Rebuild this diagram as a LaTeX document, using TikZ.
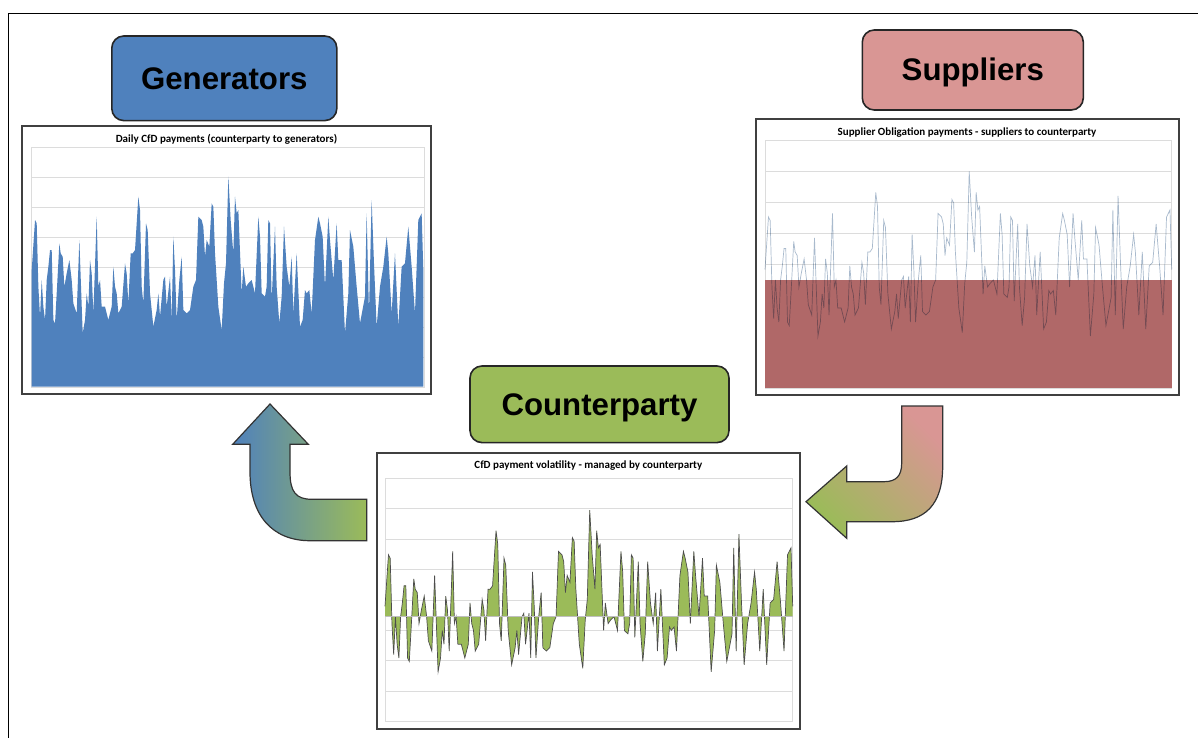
\documentclass[tikz,border=0pt]{standalone}
\usepackage{fontspec}
\setmainfont{Liberation Sans}
\newfontfamily\calibri{Carlito}
\usepackage{xcolor}
\usetikzlibrary{calc}

\definecolor{genblue}{HTML}{4F81BD}
\definecolor{supred}{HTML}{D99694}
\definecolor{obred}{HTML}{B06868}
\definecolor{cpgreen}{HTML}{9BBB59}
\definecolor{gridgray}{HTML}{DCDCDC}
\definecolor{framegray}{HTML}{404040}
\definecolor{oblineblue}{HTML}{A9BACD}
\definecolor{cplinegray}{HTML}{4D4D4D}

% daily CfD payment series: position/value
\def\cfdseries{35/35,45/50,50/49,55/30,60/21,65/32,70/24,75/20,80/32,85/36,90/41,95/41,100/20,105/19,110/28,118/43,122/40,128/39,133/30,140/34,148/38,155/32,160/25,170/22,178/44,183/30,188/16,195/20,200/28,205/24,210/38,215/34,220/22,230/51,235/30,240/32,245/24,255/24,265/20,275/24,280/36,285/30,290/28,295/22,305/24,315/37,320/34,325/25,332/40,338/40,345/41,355/57,360/53,365/30,370/25,378/49,383/47,390/28,400/18,410/23,415/28,420/21,430/32,435/33,440/24,450/33,455/20,460/45,465/35,470/20,478/32,485/39,490/23,500/22,510/23,520/30,528/32,535/51,545/50,550/48,555/39,560/44,568/42,575/55,580/54,585/40,595/24,605/17,612/31,618/37,625/63,632/50,640/40,645/57,650/52,655/53,665/28,670/36,678/30,685/31,695/32,705/28,715/51,720/45,725/28,735/27,740/30,745/50,750/49,755/26,765/48,770/30,778/19,785/27,792/48,800/36,808/30,815/39,820/22,830/40,840/18,848/20,855/29,860/28,868/29,875/22,885/44,895/51,900/49,908/45,915/30,925/51,930/44,940/32,950/49,955/38,965/38,975/16,985/28,990/47,1000/42,1010/30,1020/19,1035/27,1040/52,1047/22,1055/56,1062/37,1070/18,1080/30,1090/36,1100/45,1105/40,1115/22,1125/40,1135/18,1145/36,1155/37,1165/48,1175/36,1185/22,1195/50,1205/52,1210/35}

\begin{document}
\begin{tikzpicture}[x=0.5pt,y=-0.5pt,
  labelbox/.style={draw=black!85,line width=0.8pt,rounded corners=6pt,inner sep=0pt,
    font=\fontsize{15.6}{18}\selectfont\bfseries,text height=11pt,text depth=0pt},
  chartframe/.style={draw=framegray,line width=1pt,fill=white},
  plotarea/.style={draw=gridgray,line width=0.4pt},
  gridline/.style={gridgray,line width=0.4pt},
  charttitle/.style={font=\calibri\bfseries\fontsize{5.5}{6}\selectfont,inner sep=0pt},
  blockarrow/.style={draw=black!80,line width=0.6pt}]
  \useasboundingbox (0,0) rectangle (1198,738);
  \draw[line width=0.75pt] (8.5,738) -- (8.5,13.5) -- (1198,13.5);

  % generators
  \node[labelbox,fill=genblue,minimum width=112.5pt,minimum height=42.3pt] (gen) at (224.3,78.3) {Generators};
  \draw[chartframe] (22,126) rectangle (431,394);
  \node[charttitle] (gentitle) at (226.5,139) {Daily CfD payments (counterparty to generators)};
  \draw[plotarea] (31,147) rectangle (424,387);
  \foreach \y in {177,207,...,357}
    \draw[gridline] (31,\y) -- (424,\y);
  \fill[genblue] (31.7,386.7) \foreach \t/\v in \cfdseries {-- ({31.7+(\t-35)*0.33328},{386.7-3.333*\v})} -- (423.3,386.7) -- cycle;

  % suppliers
  \node[labelbox,fill=supred,minimum width=110.5pt,minimum height=40pt] (sup) at (972.8,70) {Suppliers};
  \draw[chartframe] (756,119) rectangle (1179,395);
  \node[charttitle] (suptitle) at (967,132.7) {Supplier Obligation payments - suppliers to counterparty};
  \draw[plotarea] (765,140) rectangle (1171.7,388);
  \foreach \y in {171,202,...,357}
    \draw[gridline] (765,\y) -- (1171.7,\y);
  \fill[obred] (765,280) rectangle (1171.7,388);
  \draw[oblineblue,line width=0.35pt,blend mode=multiply] \foreach \t/\v [count=\i] in \cfdseries {\ifnum\i>1 --\fi ({765+(\t-35)*0.34613},{392-3.5*\v})};

  % counterparty
  \node[labelbox,fill=cpgreen,minimum width=129.5pt,minimum height=38.3pt] (cp) at (599.5,404.3) {Counterparty};
  \draw[chartframe] (377.3,452.7) rectangle (800,729.3);
  \node[charttitle] (cptitle) at (588.3,465.3) {CfD payment volatility - managed by counterparty};
  \draw[plotarea] (385,478.3) rectangle (792.7,721.7);
  \foreach \k in {1,...,7}
    \draw[gridline] (385,{478.3+30.4*\k}) -- (792.7,{478.3+30.4*\k});
  \fill[cpgreen] (385,616) \foreach \t/\v in \cfdseries {-- ({385+(\t-35)*0.34698},{616-3.44*(\v-32.2)})} -- (792.7,616) -- cycle;
  \draw[cplinegray,line width=0.35pt] \foreach \t/\v [count=\i] in \cfdseries {\ifnum\i>1 --\fi ({385+(\t-35)*0.34698},{616-3.44*(\v-32.2)})};
  \draw[gray!50,line width=0.4pt] (385,616) -- (792.7,616);

  % payment flow arrows
  \shadedraw[blockarrow,left color=genblue,right color=cpgreen]
    (270,404) -- (308.3,444.3) -- (290,444.3) -- (290,472)
    .. controls (290,492) and (296,499.3) .. (312,499.3)
    -- (366.7,499.3) -- (366.7,540.7) -- (310,540.7)
    .. controls (272,540.7) and (250,515) .. (250,472)
    -- (250,444.3) -- (232.7,444.3) -- cycle;
  \shadedraw[blockarrow,top color=supred,bottom color=cpgreen,shading angle=-45]
    (901.7,406) -- (942.7,406) -- (942.7,466)
    .. controls (942.7,505) and (925,521.7) .. (892,521.7)
    -- (846.7,521.7) -- (846.7,538.3) -- (806,501.7) -- (846.7,466) -- (846.7,481.7)
    -- (884,481.7) .. controls (896,481.7) and (901.7,476) .. (901.7,463) -- cycle;
\end{tikzpicture}
\end{document}
